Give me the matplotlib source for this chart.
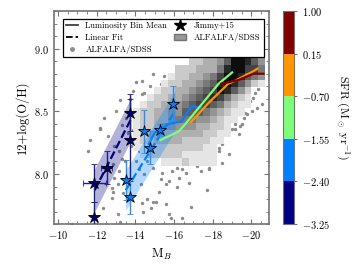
import matplotlib
matplotlib.use("Agg")
import matplotlib.pyplot as plt
import numpy as np
from matplotlib.colors import ListedColormap, BoundaryNorm
from matplotlib.cm import ScalarMappable
from matplotlib.lines import Line2D
from matplotlib.patches import Patch

plt.rcParams["font.family"] = "serif"
plt.rcParams["font.serif"] = ["cmr10", "DejaVu Serif"]
plt.rcParams["mathtext.fontset"] = "cm"
plt.rcParams["axes.formatter.use_mathtext"] = True
plt.rcParams["axes.unicode_minus"] = True

# SFR bins for the colour bar
sfr_bounds = [-3.25, -2.40, -1.55, -0.70, 0.15, 1.00]
sfr_colors = ["#000080", "#0080ff", "#7dff7a", "#ff9400", "#800000"]

# ALFALFA/SDSS individual galaxies (M_B, 12+log(O/H))
alfalfa_mb = [
    -14.92, -15.47, -14.37, -14.78, -15.81, -15.23, -14.72, -13.21, -14.27, -14.75,
    -15.09, -14.55, -14.92, -14.07, -14.37, -14.67, -12.19, -14.15, -13.30, -16.26,
    -16.51, -16.77, -15.57, -15.74, -14.37, -16.09, -14.04, -15.32, -13.86, -14.46,
    -14.97, -15.40, -14.37, -14.04, -18.22, -18.34, -15.91, -12.15, -11.64, -11.55,
    -12.92, -13.18, -14.21, -14.04, -12.84, -13.18, -12.92, -13.09, -14.21, -14.46,
    -12.84, -13.35, -15.23, -15.57, -15.06, -15.57, -14.81, -15.74, -13.47, -12.78,
    -12.78, -14.58, -14.92, -14.41, -13.21, -10.75, -12.32, -13.09, -14.37, -14.89,
    -18.82, -19.16, -19.33, -19.50, -19.76, -20.02, -20.27, -20.53, -18.48, -18.31,
    -18.82, -17.45, -17.28, -17.71, -17.79, -17.37, -17.19, -16.43, -16.17, -16.60,
    -16.26, -15.40, -15.32, -15.74, -16.77, -16.17, -17.71, -16.86, -15.83, -16.43,
    -18.73, -18.31, -18.48, -17.54, -17.37, -17.03, -17.88, -17.83, -20.27, -20.36,
    -20.19, -20.10, -19.93, -19.76, -19.50, -19.67, -19.33, -19.59, -19.16, -19.42,
    -18.99, -16.17, -15.91, -16.43, -13.50, -13.80, -14.00, -13.30, -12.60, -13.00,
    -14.60, -14.30, -13.70, -13.60, -13.90, -12.40,
]
alfalfa_oh = [
    8.80, 8.78, 8.74, 8.70, 8.70, 8.65, 8.61, 8.59, 8.56, 8.56,
    8.56, 8.52, 8.49, 8.48, 8.46, 8.44, 8.37, 8.40, 8.39, 8.81,
    8.80, 8.80, 8.68, 8.72, 8.64, 8.78, 8.73, 8.72, 8.66, 8.65,
    8.61, 8.62, 8.50, 8.41, 8.89, 8.93, 8.76, 8.36, 8.27, 8.18,
    8.22, 8.18, 8.18, 8.10, 8.08, 8.02, 7.97, 7.92, 8.04, 8.00,
    7.86, 7.85, 7.86, 7.92, 7.78, 7.76, 7.73, 7.68, 8.10, 7.89,
    7.81, 7.80, 7.78, 7.70, 7.62, 7.60, 7.73, 7.68, 7.77, 8.05,
    8.34, 8.36, 8.32, 8.40, 8.48, 8.50, 8.53, 8.56, 8.24, 8.18,
    8.16, 8.21, 8.16, 8.09, 8.05, 8.02, 8.06, 8.08, 8.05, 8.01,
    7.97, 8.01, 7.96, 7.94, 7.93, 7.90, 7.87, 7.74, 7.65, 7.65,
    8.33, 8.21, 8.09, 8.14, 8.12, 8.12, 8.08, 8.04, 8.72, 8.68,
    8.65, 8.61, 8.58, 8.56, 8.54, 8.49, 8.48, 8.45, 8.40, 8.38,
    8.36, 8.10, 8.02, 8.04, 8.45, 8.22, 8.28, 8.12, 8.30, 8.50,
    8.10, 7.92, 8.60, 8.33, 8.35, 8.45,
]

# ALFALFA/SDSS 2D histogram (grey-level 0-9), rows from top (high O/H) down
hist_x_edges = np.linspace(-13.52, -20.72, 21)
hist_y_edges = np.linspace(8.98, 8.01, 18)
hist_rows = [
    "00000000000000345543",
    "00000000022334699864",
    "00000002223335899775",
    "00000012233457998654",
    "00000122334568986421",
    "00001223345679864200",
    "00012233456787532100",
    "00122334567765321100",
    "01223344666543211000",
    "01223345554432110000",
    "01223444443322100000",
    "01233333333221100000",
    "01223333222211000000",
    "01122222222110000000",
    "00122222111110000000",
    "00000111211110000000",
    "00000000000000000000",
]

# luminosity bin means, one line per SFR bin
bin_blue_mb = [-14.7, -15.0, -15.75, -16.4, -16.9, -17.4]
bin_blue_oh = [8.24, 8.33, 8.40, 8.42, 8.54, 8.53]
bin_green_mb = [-15.3, -16.25, -16.7, -17.5, -18.3, -19.0]
bin_green_oh = [8.27, 8.34, 8.42, 8.57, 8.72, 8.81]
bin_orange_mb = [-16.85, -17.8, -18.8, -19.1, -20.1, -20.3]
bin_orange_oh = [8.41, 8.57, 8.72, 8.74, 8.82, 8.84]
bin_red_mb = [-18.44, -19.33, -20.1, -20.62]
bin_red_oh = [8.72, 8.75, 8.80, 8.80]

# Jimmy+15 galaxies
jimmy_navy_mb = [-13.72, -13.70, -12.52, -11.88, -11.88]
jimmy_navy_oh = [8.49, 8.27, 8.05, 7.93, 7.66]
jimmy_navy_xerr = [0.0, 0.0, 0.3, 0.6, 0.0]
jimmy_navy_yerr = [0.15, 0.33, 0.13, 0.15, 0.12]
jimmy_blue_mb = [-13.50, -13.73, -14.43, -14.78, -15.25, -15.93]
jimmy_blue_oh = [7.95, 7.82, 8.34, 8.21, 8.35, 8.56]
jimmy_blue_yerr = [0.16, 0.14, 0.17, 0.13, 0.05, 0.14]

# linear fits (end points) and band half-widths
fit_navy_mb = [-11.9, -13.75]
fit_navy_oh = [7.87, 8.43]
fit_navy_width = 0.17
fit_blue_mb = [-13.5, -16.05]
fit_blue_oh = [7.87, 8.50]
fit_blue_width = 0.16

fig = plt.figure(figsize=(3.6, 2.7), dpi=100)
ax = fig.add_axes([0.150, 0.170, 0.597, 0.789])
cax = fig.add_axes([0.786, 0.170, 0.031, 0.789])

ax.scatter(alfalfa_mb, alfalfa_oh, s=6, color="#8c8c8c", lw=0, zorder=1)

counts = np.array([[int(c) for c in row] for row in hist_rows], dtype=float)
counts = np.ma.masked_equal(counts, 0)
ax.pcolormesh(hist_x_edges, hist_y_edges, counts, cmap="gray_r", vmin=0, vmax=9.5,
              zorder=2)

for xs, ys, w, c in [(fit_navy_mb, fit_navy_oh, fit_navy_width, sfr_colors[0]),
                     (fit_blue_mb, fit_blue_oh, fit_blue_width, sfr_colors[1])]:
    xs = np.array(xs)
    ys = np.array(ys)
    ax.fill_between(xs, ys - w, ys + w, color=c, alpha=0.3, lw=0, zorder=3)
    ax.plot(xs, ys, ls="--", color=c, lw=1.6, zorder=4)

for xs, ys, c in [(bin_blue_mb, bin_blue_oh, sfr_colors[1]),
                  (bin_green_mb, bin_green_oh, sfr_colors[2]),
                  (bin_orange_mb, bin_orange_oh, sfr_colors[3]),
                  (bin_red_mb, bin_red_oh, sfr_colors[4])]:
    ax.plot(xs, ys, color=c, lw=1.6, zorder=5)

ax.errorbar(jimmy_navy_mb, jimmy_navy_oh, xerr=jimmy_navy_xerr, yerr=jimmy_navy_yerr,
            fmt="*", ms=9, mfc=sfr_colors[0], mec="k", mew=0.6,
            ecolor="#1e1e8a", elinewidth=1.0, capsize=2, zorder=6)
ax.errorbar(jimmy_blue_mb, jimmy_blue_oh, yerr=jimmy_blue_yerr,
            fmt="*", ms=9, mfc=sfr_colors[1], mec="k", mew=0.6,
            ecolor="#2a8cf0", elinewidth=1.0, capsize=2, zorder=6)

ax.set_xlim(-9.8, -20.9)
ax.set_ylim(7.6, 9.3)
ax.set_xticks([-10, -12, -14, -16, -18, -20])
ax.set_xticks(np.arange(-10.5, -21, -0.5), minor=True)
ax.set_yticks([8.0, 8.5, 9.0])
ax.set_yticks(np.arange(7.6, 9.31, 0.1), minor=True)
ax.tick_params(which="both", direction="in", top=True, right=True, color="0.45",
               labelsize=7.5)
ax.tick_params(which="major", length=3.5)
ax.tick_params(which="minor", length=2)
for sp in ax.spines.values():
    sp.set_color("0.45")
    sp.set_linewidth(1.2)
ax.set_xlabel(r"M$_B$", fontsize=9)
ax.set_ylabel("12+log(O/H)", fontsize=9)

handles = [
    Line2D([], [], color="0.25", lw=1.3, label="Luminosity Bin Mean"),
    Line2D([], [], color="k", ls="--", lw=1.3, label="Linear Fit"),
    Line2D([], [], color="#8c8c8c", marker="o", ls="", ms=2.5, label="ALFALFA/SDSS"),
    Line2D([], [], color="k", marker="*", ls="", ms=9, label="Jimmy+15"),
    Patch(facecolor="0.6", edgecolor="0.45", label="ALFALFA/SDSS"),
]
leg = ax.legend(handles=handles, ncol=2, loc="upper left", mode="expand",
                bbox_to_anchor=(0.02, 0.985, 0.975, 0), fontsize=6.2,
                fancybox=False, framealpha=1, edgecolor="k",
                handlelength=1.4, handletextpad=0.9, columnspacing=0.8,
                borderpad=0.35, labelspacing=0.4)
leg.get_frame().set_linewidth(0.9)
leg.set_zorder(10)

cmap = ListedColormap(sfr_colors)
norm = BoundaryNorm(sfr_bounds, cmap.N)
cbar = fig.colorbar(ScalarMappable(norm=norm, cmap=cmap), cax=cax, ticks=sfr_bounds)
cbar.set_ticklabels([f"${b:.2f}$" for b in sfr_bounds])
cbar.ax.tick_params(labelsize=7.5, length=2, color="0.45")
cbar.outline.set_edgecolor("0.45")
cbar.set_label(r"SFR (M$_\odot$ yr$^{-1}$)", rotation=270, labelpad=15, fontsize=8.5)

fig.savefig("out.png", dpi=100)
